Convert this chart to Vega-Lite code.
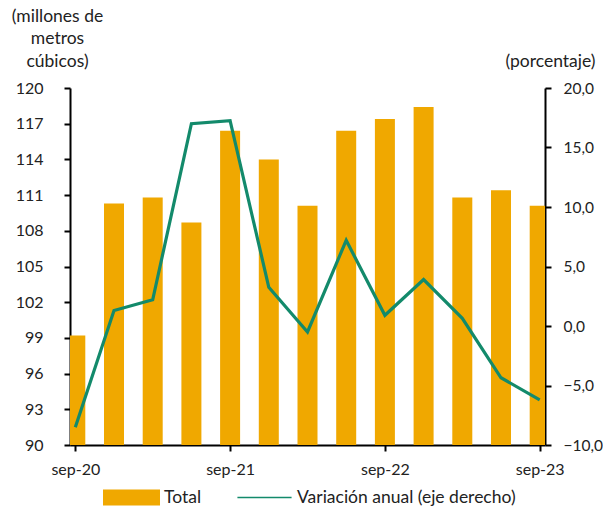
{
  "$schema": "https://vega.github.io/schema/vega-lite/v6.json",
  "width": 475,
  "height": 357,
  "autosize": {"type": "none"},
  "padding": {"left": 70, "top": 88, "right": 58, "bottom": 65},
  "background": "white",
  "config": {
    "view": {"stroke": null},
    "font": "Lato",
    "axis": {"labelFont": "Lato", "labelFontSize": 16, "labelColor": "#222222", "titleFont": "Lato", "titleFontSize": 17.5, "titleFontWeight": "normal", "titleColor": "#222222", "domainColor": "#000000", "domainWidth": 2, "tickColor": "#000000", "tickWidth": 2, "tickSize": 6, "grid": false, "zindex": 1},
    "legend": {"labelFont": "Lato", "labelFontSize": 17.5, "labelColor": "#222222", "labelLimit": 400}
  },
  "data": {
    "values": [
      {"periodo": "sep-20", "total": 99.2, "variacion": -8.5},
      {"periodo": "dic-20", "total": 110.3, "variacion": 1.3},
      {"periodo": "mar-21", "total": 110.8, "variacion": 2.2},
      {"periodo": "jun-21", "total": 108.7, "variacion": 17.0},
      {"periodo": "sep-21", "total": 116.4, "variacion": 17.25},
      {"periodo": "dic-21", "total": 114.0, "variacion": 3.25},
      {"periodo": "mar-22", "total": 110.1, "variacion": -0.5},
      {"periodo": "jun-22", "total": 116.4, "variacion": 7.2},
      {"periodo": "sep-22", "total": 117.4, "variacion": 0.9},
      {"periodo": "dic-22", "total": 118.4, "variacion": 3.9},
      {"periodo": "mar-23", "total": 110.8, "variacion": 0.65},
      {"periodo": "jun-23", "total": 111.4, "variacion": -4.35},
      {"periodo": "sep-23", "total": 110.1, "variacion": -6.2}
    ]
  },
  "encoding": {
    "x": {
      "field": "periodo",
      "type": "ordinal",
      "sort": null,
      "scale": {"type": "point", "padding": 0.137},
      "axis": {
        "title": null,
        "values": ["sep-20", "sep-21", "sep-22", "sep-23"],
        "labelAngle": 0,
        "labelPadding": 10,
        "encode": {"ticks": {"update": {"y2": {"value": -6}}}}
      }
    }
  },
  "layer": [
    {
      "mark": {"type": "bar", "width": 20, "clip": true, "color": "#F0A800"},
      "encoding": {
        "y": {
          "field": "total",
          "type": "quantitative",
          "scale": {"domain": [90, 120], "nice": false, "zero": false},
          "axis": {
            "values": [90, 93, 96, 99, 102, 105, 108, 111, 114, 117, 120],
            "labelPadding": 21,
            "encode": {"ticks": {"update": {"x2": {"value": 6}}}},
            "title": ["(millones de", "metros", "cúbicos)"],
            "titleAngle": 0,
            "titleAlign": "center",
            "titleBaseline": "alphabetic",
            "titleX": -13,
            "titleY": -67,
            "titleLineHeight": 22.5
          }
        },
        "color": {
          "datum": "Total",
          "type": "nominal",
          "scale": {"domain": ["Total", "Variación anual (eje derecho)"], "range": ["#F0A800", "#138A6B"]},
          "legend": {
            "title": null,
            "orient": "none",
            "direction": "horizontal",
            "legendX": 33,
            "legendY": 381,
            "padding": 0,
            "symbolSize": 3249,
            "labelOffset": 4,
            "columnPadding": 34,
            "labelBaseline": "middle",
            "encode": {
              "symbols": {
                "update": {
                  "shape": {"signal": "datum.value === 'Total' ? 'M-1,-0.28H1V0.28H-1Z' : 'M-0.95,-0.03H0.95V0.03H-0.95Z'"},
                  "fill": {"signal": "datum.value === 'Total' ? '#F0A800' : '#138A6B'"},
                  "stroke": {"value": "transparent"},
                  "strokeWidth": {"value": 0},
                  "opacity": {"value": 1},
                  "fillOpacity": {"value": 1}
                }
              }
            }
          }
        }
      }
    },
    {
      "mark": {"type": "line", "strokeWidth": 3.2, "clip": true, "color": "#138A6B"},
      "encoding": {
        "y": {
          "field": "variacion",
          "type": "quantitative",
          "scale": {"domain": [-10, 20], "nice": false, "zero": false},
          "axis": {
            "orient": "right",
            "values": [-10, -5, 0, 5, 10, 15, 20],
            "labelExpr": "replace(format(datum.value, '.1f'), '.', ',')",
            "labelAlign": "left",
            "labelPadding": 12,
            "labelFontSize": 15.5,
            "encode": {"ticks": {"update": {"x2": {"value": -6}}}},
            "title": "(porcentaje)",
            "titleAngle": 0,
            "titleAlign": "center",
            "titleBaseline": "alphabetic",
            "titleX": 5,
            "titleY": -22
          }
        },
        "color": {"datum": "Variación anual (eje derecho)", "type": "nominal"}
      }
    }
  ],
  "resolve": {"scale": {"y": "independent"}}
}
